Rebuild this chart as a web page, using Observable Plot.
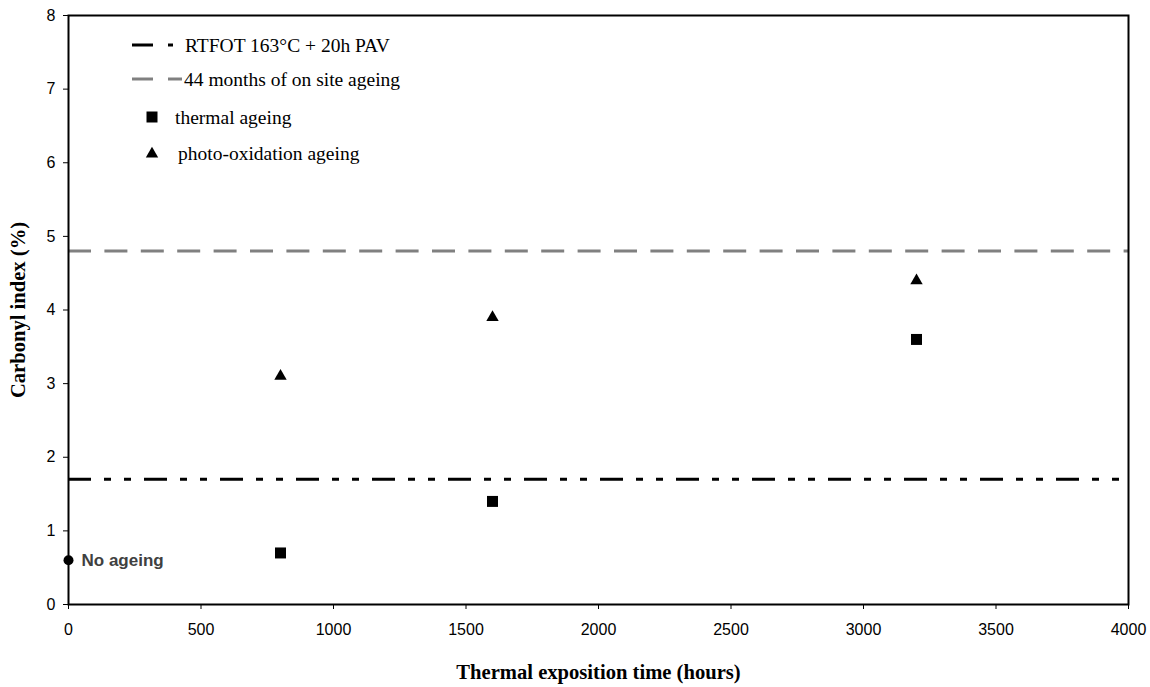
<!DOCTYPE html>
<html>
<head>
<meta charset="utf-8">
<script src="https://cdn.jsdelivr.net/npm/d3@7"></script>
<script src="https://cdn.jsdelivr.net/npm/@observablehq/plot@0.6"></script>
<style>
  body { margin: 0; background: #fff; }
  #wrap { position: relative; width: 1150px; height: 687px; }
  #wrap svg.plot { display: block; }
  g[aria-label="x-axis label"] text, g[aria-label="y-axis label"] text {
    font: bold 20.6px "Liberation Serif", "Times New Roman", serif; fill: #000;
  }
  g[aria-label="x-axis tick label"] text, g[aria-label="y-axis tick label"] text {
    font: 16px "Liberation Sans", Arial, sans-serif; fill: #000;
  }
  #legend { position: absolute; left: 120px; top: 25px; }
  #legend text { font: 19.5px "Liberation Serif", "Times New Roman", serif; fill: #000; }
</style>
</head>
<body>
<div id="wrap"></div>
<script>
// ---- data ----
const hours = [800, 1600, 3200];
const thermalAgeing = [0.7, 1.4, 3.6];
const photoOxidationAgeing = [3.1, 3.9, 4.4];
const noAgeingHours = [0];
const noAgeingValue = [0.6];
const rtfotPav = [1.7];
const onSite44Months = [4.8];
const xTicks = [0, 500, 1000, 1500, 2000, 2500, 3000, 3500, 4000];
const yTicks = [0, 1, 2, 3, 4, 5, 6, 7, 8];
const legendLabels = ["RTFOT 163°C + 20h PAV", "44 months of on site ageing", "thermal ageing", "photo-oxidation ageing"];

const thermal = hours.map((h, i) => ({x: h, y: thermalAgeing[i]}));
const photo = hours.map((h, i) => ({x: h, y: photoOxidationAgeing[i]}));
const noAgeing = noAgeingHours.map((h, i) => ({x: h, y: noAgeingValue[i], label: "No ageing"}));

const chart = Plot.plot({
  width: 1150,
  height: 687,
  marginLeft: 68,
  marginRight: 22,
  marginTop: 15,
  marginBottom: 83,
  style: {background: "#fff", overflow: "visible"},
  x: {domain: [0, 4000]},
  y: {domain: [0, 8]},
  marks: [
    Plot.axisX(xTicks, {tickSize: 5, tickPadding: 14, stroke: "#000", strokeWidth: 1, tickFormat: d => String(d),
      label: "Thermal exposition time (hours)", labelAnchor: "center", labelOffset: 74, labelArrow: "none"}),
    Plot.axisY(yTicks, {tickSize: 5, tickPadding: 8, stroke: "#000", strokeWidth: 1, tickFormat: d => String(d),
      label: "Carbonyl index (%)", labelAnchor: "center", labelOffset: 58, labelArrow: "none"}),
    Plot.ruleY(onSite44Months, {stroke: "#808080", strokeWidth: 3, strokeDasharray: "23,13.4"}),
    Plot.ruleY(rtfotPav, {stroke: "#000", strokeWidth: 3, strokeDasharray: "23,13,7,13,7,13"}),
    Plot.frame({stroke: "#000", strokeWidth: 2}),
    Plot.dot(thermal, {x: "x", y: "y", symbol: "square", r: 6.2, fill: "#000", stroke: "none"}),
    Plot.dot(photo, {x: "x", y: "y", symbol: "triangle", r: 4.6, fill: "#000", stroke: "none"}),
    Plot.dot(noAgeing, {x: "x", y: "y", symbol: "circle", r: 5, fill: "#000", stroke: "none"}),
    Plot.text(noAgeing, {x: "x", y: "y", text: "label", dx: 13, textAnchor: "start",
      fontSize: 17, fontWeight: "bold", fontFamily: "Liberation Sans, Arial, sans-serif", fill: "#404040"})
  ]
});
document.getElementById("wrap").appendChild(chart);

// ---- legend ----
const lg = d3.select("#wrap").append("svg").attr("id", "legend").attr("width", 360).attr("height", 150);
// row 1: dash-dot black
lg.append("line").attr("x1", 12).attr("x2", 33).attr("y1", 20).attr("y2", 20).attr("stroke", "#000").attr("stroke-width", 3);
lg.append("line").attr("x1", 48).attr("x2", 53).attr("y1", 20).attr("y2", 20).attr("stroke", "#000").attr("stroke-width", 3);
lg.append("text").attr("x", 65).attr("y", 26.5).text(legendLabels[0]);
// row 2: grey dashes
lg.append("line").attr("x1", 12).attr("x2", 33).attr("y1", 54).attr("y2", 54).attr("stroke", "#808080").attr("stroke-width", 3);
lg.append("line").attr("x1", 48).attr("x2", 62).attr("y1", 54).attr("y2", 54).attr("stroke", "#808080").attr("stroke-width", 3);
lg.append("text").attr("x", 64).attr("y", 61).text(legendLabels[1]);
// row 3: square
lg.append("path").attr("transform", "translate(32,92)").attr("d", d3.symbol(d3.symbolSquare, 121)()).attr("fill", "#000");
lg.append("text").attr("x", 55).attr("y", 98.5).text(legendLabels[2]);
// row 4: triangle
lg.append("path").attr("transform", "translate(32,129)").attr("d", d3.symbol(d3.symbolTriangle, 66)()).attr("fill", "#000");
lg.append("text").attr("x", 58).attr("y", 134.5).text(legendLabels[3]);
</script>
</body>
</html>
